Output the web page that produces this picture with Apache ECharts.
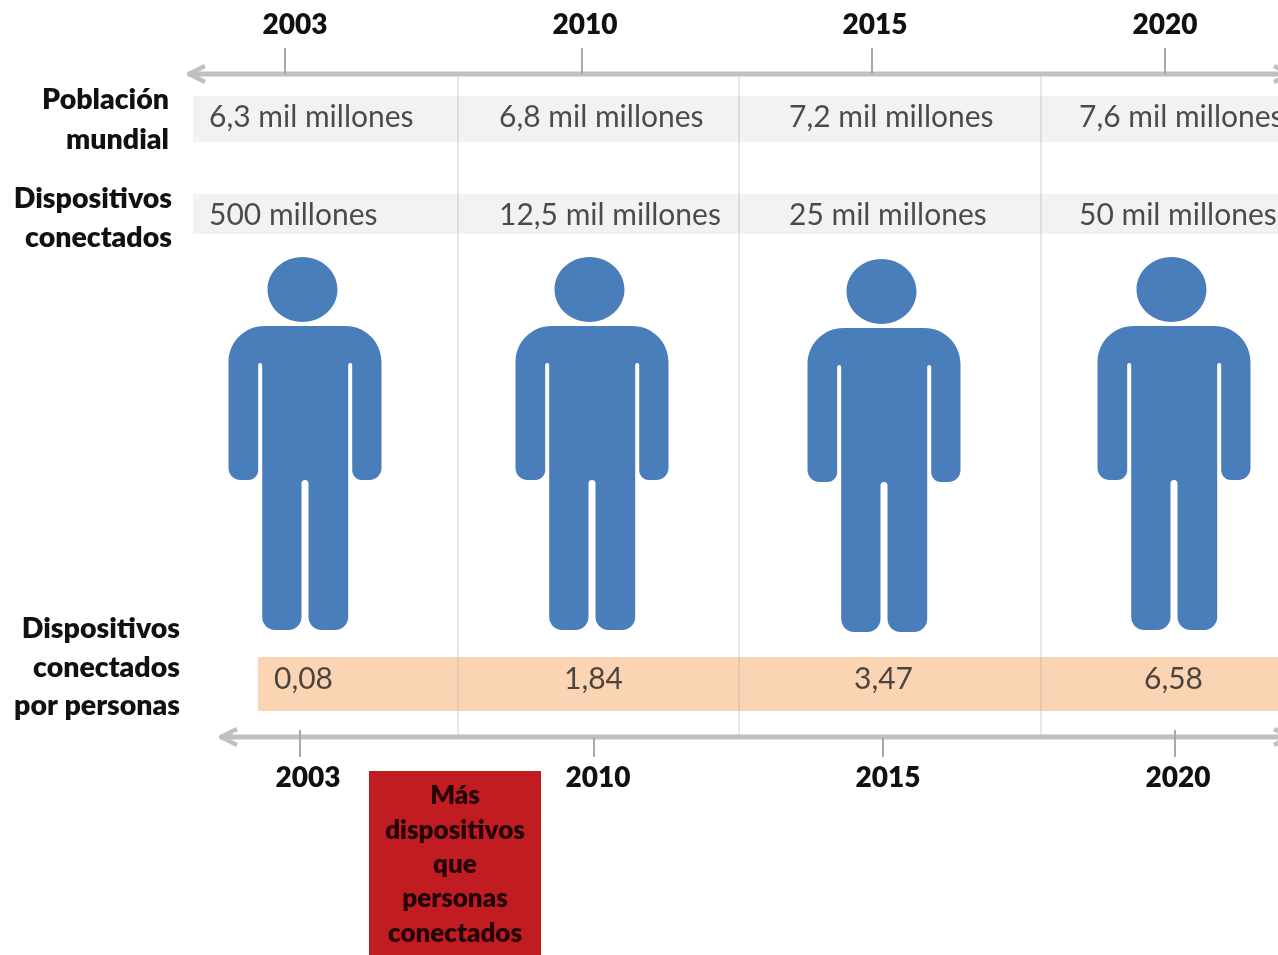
<!DOCTYPE html>
<html lang="es">
<head>
<meta charset="utf-8">
<title>Dispositivos conectados por persona</title>
<script src="https://cdn.jsdelivr.net/npm/echarts@6/dist/echarts.min.js"></script>
<style>
  html, body { margin: 0; padding: 0; background: #fff; overflow: hidden; }
  #chart { width: 1278px; height: 955px; }
</style>
</head>
<body>
<div id="chart"></div>
<script>
// Datos
const anios = ['2003', '2010', '2015', '2020'];
const poblacionMundial = ['6,3 mil millones', '6,8 mil millones', '7,2 mil millones', '7,6 mil millones'];
const dispositivosConectados = ['500 millones', '12,5 mil millones', '25 mil millones', '50 mil millones'];
const dispositivosPorPersona = [0.08, 1.84, 3.47, 6.58];

// Textos
const rotuloPoblacion = ['Población', 'mundial'];
const rotuloDispositivos = ['Dispositivos', 'conectados'];
const rotuloPorPersona = ['Dispositivos', 'conectados', 'por personas'];
const avisoLineas = ['Más', 'dispositivos', 'que', 'personas', 'conectados'];

// Maquetación
const FUENTE = 'Lato, "Open Sans", sans-serif';
const GRIS_EJE = '#c0c0c0';
const FILA_POBLACION = 117;
const FILA_DISPOSITIVOS = 215;
const FILA_POR_PERSONA = 679;
const EJE_SUP = 74;
const EJE_INF = 737;
const desvioFigura = [[1, 0], [-2, 0], [0, 2], [0, 0]];
const desvioMarcaSup = [-19, -12, -12, -9];
const desvioMarcaInf = [-4, 0, -1, 1];
const marcaInfCruza = [true, false, false, true];

// Silueta de persona (cabeza, tronco, brazos y piernas)
const SILUETA = 'path://M39 32.5C39 14.55 54.67 0 74 0C93.33 0 109 14.55 109 32.5C109 50.45 93.33 65 74 65C54.67 65 39 50.45 39 32.5Z' +
  'M36 69H117C136.9 69 153 85.1 153 105V211C153 217.6 147.6 223 141 223H133C127.9 223 123.7 218.5 123.7 213V108Q123.7 106 121.7 106Q119.7 106 119.7 108' +
  'V360C119.7 367.2 113.9 373 106.7 373H93C85.8 373 80 367.2 80 360V226.5Q80 223 76.5 223Q73 223 73 226.5V360C73 367.2 67.2 373 60 373H46.7C39.5 373 33.7 367.2 33.7 360' +
  'V108Q33.7 106 31.7 106Q29.7 106 29.7 108V213C29.7 218.5 25.5 223 20 223H12C5.4 223 0 217.6 0 211V105C0 85.1 16.1 69 36 69Z';

const formatoComa = v => v.toFixed(2).replace('.', ',');

// Fila de textos sobre su banda, colocada por categoría
function filaTexto(nombre, fila, textos, desvio) {
  return {
    type: 'scatter', name: nombre, xAxisIndex: 0, yAxisIndex: 0,
    symbolSize: 1, itemStyle: { color: 'transparent' }, silent: true, z: 5,
    data: textos.map((t, i) => ({ value: [i, fila], texto: t })),
    label: {
      show: true, position: 'inside', offset: [desvio, 0], align: 'left', verticalAlign: 'middle',
      fontFamily: FUENTE, fontSize: 30, color: '#1f1f1f',
      formatter: p => p.data.texto
    }
  };
}

// Marcas verticales de cada eje
function marcas(nombre, calcular) {
  return {
    type: 'custom', name: nombre, xAxisIndex: 0, yAxisIndex: 0, silent: true, z: 4,
    data: anios.map((a, i) => [i]),
    renderItem(params, api) {
      const [y1, y2, dx] = calcular(params.dataIndex);
      const a = api.coord([api.value(0), y1]);
      const b = api.coord([api.value(0), y2]);
      return { type: 'line', shape: { x1: a[0] + dx, y1: a[1], x2: b[0] + dx, y2: b[1] },
               style: { stroke: '#a8a8a8', lineWidth: 2 } };
    }
  };
}

// Rótulo de fila, alineado a la derecha
function rotulo(lineas, derecha, centroPrimera, paso) {
  return lineas.map((t, i) => ({
    type: 'text', x: derecha, y: centroPrimera + i * paso,
    style: { text: t, align: 'right', verticalAlign: 'middle', fontFamily: FUENTE, fontWeight: 800, fontSize: 28.5, fill: '#111111' }
  }));
}

function banda(x, y, ancho, alto, color) {
  return { type: 'rect', shape: { x, y, width: ancho, height: alto }, style: { fill: color } };
}

function separador(x) {
  return { type: 'line', z: 1, shape: { x1: x, y1: EJE_SUP, x2: x, y2: EJE_INF }, style: { stroke: 'rgba(170,170,170,0.38)', lineWidth: 1.5 } };
}

function ejeFlecha(inicio, y) {
  return [
    { type: 'line', z: 2, shape: { x1: inicio, y1: y, x2: 1290, y2: y }, style: { stroke: GRIS_EJE, lineWidth: 5 } },
    { type: 'polyline', z: 2, shape: { points: [[inicio + 17, y - 8], [inicio + 1, y], [inicio + 17, y + 8]] }, style: { stroke: GRIS_EJE, lineWidth: 4.5, fill: null, lineJoin: 'round' } },
    { type: 'polyline', z: 2, shape: { points: [[1274, y - 8], [1290, y], [1274, y + 8]] }, style: { stroke: GRIS_EJE, lineWidth: 4.5, fill: null, lineJoin: 'round' } }
  ];
}

const ejeAnios = (indiceRejilla, posicion, margen) => ({
  type: 'category', gridIndex: indiceRejilla, position: posicion, data: anios,
  axisLine: { show: false }, axisTick: { show: false }, splitLine: { show: false },
  axisLabel: { show: true, interval: 0, margin: margen, fontFamily: FUENTE, fontWeight: 800, fontSize: 28, color: '#111111' }
});
const ejeOculto = (indiceRejilla, min, max) => ({
  type: 'value', gridIndex: indiceRejilla, min, max, inverse: true, show: false, splitLine: { show: false }
});

const chart = echarts.init(document.getElementById('chart'), null, { renderer: 'canvas' });
chart.setOption({
  animation: false,
  backgroundColor: '#ffffff',
  grid: [
    { left: 159, top: 0, width: 1160, height: 955, outerBoundsMode: 'none' },
    { left: 150, top: EJE_SUP, width: 1160, height: 100, outerBoundsMode: 'none' },
    { left: 163, top: EJE_INF - 100, width: 1160, height: 100, outerBoundsMode: 'none' }
  ],
  xAxis: [
    { type: 'category', gridIndex: 0, data: anios, show: false },
    ejeAnios(1, 'top', 35),
    ejeAnios(2, 'bottom', 27)
  ],
  yAxis: [ejeOculto(0, 0, 955), ejeOculto(1, 0, 100), ejeOculto(2, 0, 100)],
  graphic: { elements: [
    banda(193, 96, 1085, 46, '#f2f2f2'),
    banda(193, 194, 1085, 40, '#f2f2f2'),
    banda(258, 657, 1020, 54, '#fbd4b4'),
    separador(458), separador(739), separador(1041),
    ...ejeFlecha(188, EJE_SUP),
    ...ejeFlecha(220, EJE_INF),
    ...rotulo(rotuloPoblacion, 169, 100, 40),
    ...rotulo(rotuloDispositivos, 172, 199, 39),
    ...rotulo(rotuloPorPersona, 180, 629, 38.5),
    banda(369, 771, 172, 184, '#c01c22'),
    ...avisoLineas.map((t, i) => ({
      type: 'text', x: 455, y: 796 + i * 34.3,
      style: { text: t, align: 'center', verticalAlign: 'middle', fontFamily: FUENTE, fontWeight: 800, fontSize: 26, fill: '#230406' }
    }))
  ] },
  series: [
    {
      type: 'scatter', name: 'Personas', xAxisIndex: 0, yAxisIndex: 0, silent: true, z: 3,
      symbol: SILUETA, symbolSize: [153, 373],
      itemStyle: { color: '#4a7ebb', opacity: 1 },
      data: anios.map((a, i) => ({ value: [i, 443.5], symbolOffset: desvioFigura[i] }))
    },
    filaTexto('Población mundial', FILA_POBLACION, poblacionMundial, -95),
    filaTexto('Dispositivos conectados', FILA_DISPOSITIVOS, dispositivosConectados, -95),
    filaTexto('Dispositivos por persona', FILA_POR_PERSONA, dispositivosPorPersona.map(formatoComa), -30),
    marcas('Marcas superiores', i => [48, EJE_SUP, desvioMarcaSup[i]]),
    marcas('Marcas inferiores', i => [marcaInfCruza[i] ? 730 : EJE_INF, 757, desvioMarcaInf[i]])
  ]
});
</script>
</body>
</html>
